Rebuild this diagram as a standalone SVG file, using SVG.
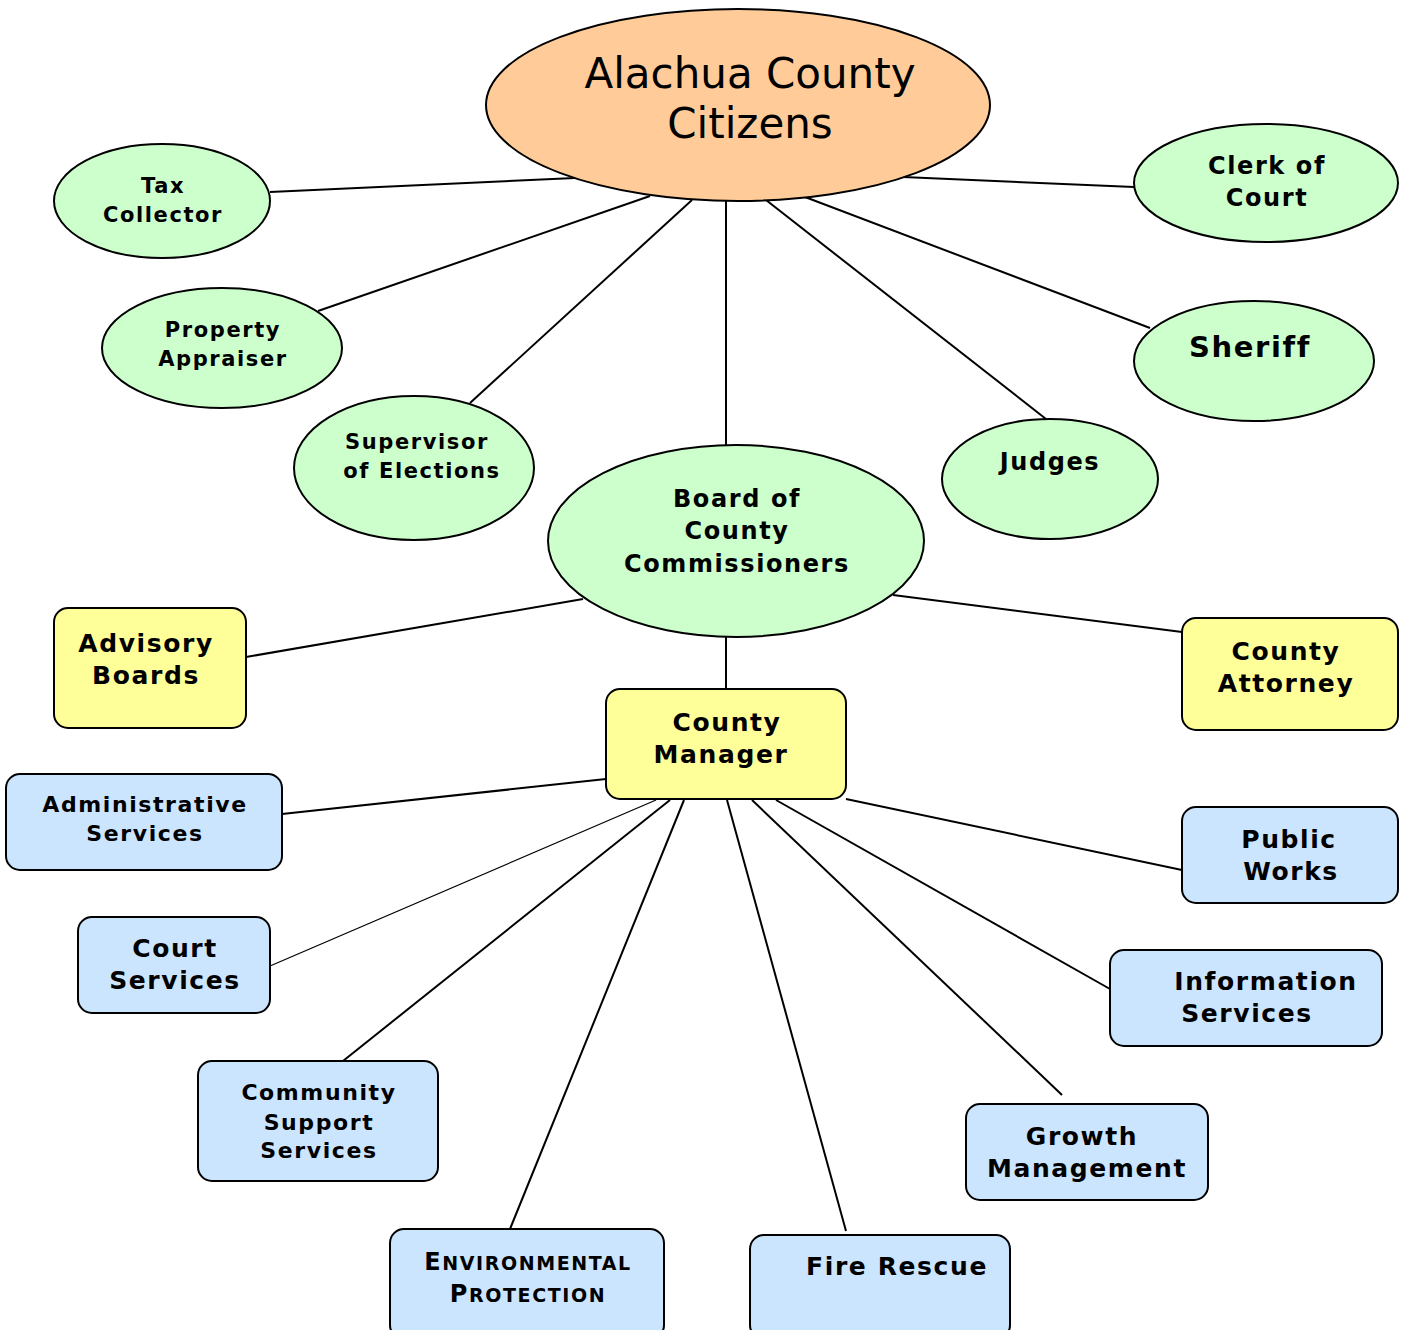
<svg xmlns="http://www.w3.org/2000/svg" width="1401" height="1330" viewBox="0 0 1401 1330">
<style>
.n{stroke:#000;stroke-width:2}
.o{fill:#FFCC99}
.g{fill:#CCFFCC}
.y{fill:#FFFF99}
.b{fill:#CCE5FF}
.t{font-family:"DejaVu Sans",Verdana,sans-serif;font-weight:bold;fill:#000;text-anchor:middle;letter-spacing:1.6px}
.c line{stroke:#000;stroke-width:2}
</style>
<rect width="1401" height="1330" fill="#fff"/>
<g class="c" id="connectors">
<line x1="270" y1="192" x2="575" y2="178"/>
<line x1="903" y1="177" x2="1134" y2="187"/>
<line x1="318" y1="311" x2="650" y2="196"/>
<line x1="470" y1="403" x2="692" y2="200"/>
<line x1="726" y1="201" x2="726" y2="445"/>
<line x1="766" y1="200" x2="1046" y2="419"/>
<line x1="805" y1="197" x2="1150" y2="328"/>
<line x1="246" y1="657" x2="583" y2="599"/>
<line x1="893" y1="595" x2="1182" y2="632"/>
<line x1="726" y1="637" x2="726" y2="689"/>
<line x1="282" y1="814" x2="606" y2="779"/>
<line x1="270" y1="966" x2="656" y2="800" style="stroke-width:1.2"/>
<line x1="343" y1="1061" x2="670" y2="800"/>
<line x1="510" y1="1229" x2="684" y2="800"/>
<line x1="846" y1="1231" x2="727" y2="800"/>
<line x1="1062" y1="1095" x2="752" y2="800"/>
<line x1="1110" y1="989" x2="776" y2="800"/>
<line x1="1182" y1="870" x2="846" y2="799"/>
</g>
<g id="citizens">
<ellipse class="n o" cx="738" cy="105" rx="252" ry="96"/>
<text class="t" x="750" y="88" style="font-weight:normal;font-size:42px;letter-spacing:0">Alachua County</text>
<text class="t" x="750" y="138" style="font-weight:normal;font-size:42px;letter-spacing:0">Citizens</text>
</g>
<g id="tax-collector">
<ellipse class="n g" cx="162" cy="201" rx="108" ry="57"/>
<text class="t" x="163" y="193" font-size="21">Tax</text>
<text class="t" x="163" y="222" font-size="21">Collector</text>
</g>
<g id="property-appraiser">
<ellipse class="n g" cx="222" cy="348" rx="120" ry="60"/>
<text class="t" x="223" y="337" font-size="21">Property</text>
<text class="t" x="223" y="366" font-size="21">Appraiser</text>
</g>
<g id="supervisor-of-elections">
<ellipse class="n g" cx="414" cy="468" rx="120" ry="72"/>
<text class="t" x="417" y="449" font-size="21">Supervisor</text>
<text class="t" x="422" y="478" font-size="21">of Elections</text>
</g>
<g id="board">
<ellipse class="n g" cx="736" cy="541" rx="188" ry="96"/>
<text class="t" x="737" y="507" font-size="24">Board of</text>
<text class="t" x="737" y="539" font-size="24">County</text>
<text class="t" x="737" y="572" font-size="24">Commissioners</text>
</g>
<g id="judges">
<ellipse class="n g" cx="1050" cy="479" rx="108" ry="60"/>
<text class="t" x="1050" y="470" font-size="24">Judges</text>
</g>
<g id="sheriff">
<ellipse class="n g" cx="1254" cy="361" rx="120" ry="60"/>
<text class="t" x="1250" y="357" font-size="29">Sheriff</text>
</g>
<g id="clerk-of-court">
<ellipse class="n g" cx="1266" cy="183" rx="132" ry="59"/>
<text class="t" x="1267" y="174" font-size="24">Clerk of</text>
<text class="t" x="1267" y="206" font-size="24">Court</text>
</g>
<g id="advisory-boards">
<rect class="n y" x="54" y="608" width="192" height="120" rx="14"/>
<text class="t" x="146" y="652" font-size="25">Advisory</text>
<text class="t" x="146" y="684" font-size="25">Boards</text>
</g>
<g id="county-attorney">
<rect class="n y" x="1182" y="618" width="216" height="112" rx="14"/>
<text class="t" x="1286" y="660" font-size="25">County</text>
<text class="t" x="1286" y="692" font-size="25">Attorney</text>
</g>
<g id="county-manager">
<rect class="n y" x="606" y="689" width="240" height="110" rx="14"/>
<text class="t" x="727" y="731" font-size="25">County</text>
<text class="t" x="721" y="763" font-size="25">Manager</text>
</g>
<g id="administrative-services">
<rect class="n b" x="6" y="774" width="276" height="96" rx="14"/>
<text class="t" x="145" y="812" font-size="22">Administrative</text>
<text class="t" x="145" y="841" font-size="22">Services</text>
</g>
<g id="court-services">
<rect class="n b" x="78" y="917" width="192" height="96" rx="14"/>
<text class="t" x="175" y="957" font-size="25">Court</text>
<text class="t" x="175" y="989" font-size="25">Services</text>
</g>
<g id="community-support-services">
<rect class="n b" x="198" y="1061" width="240" height="120" rx="14"/>
<text class="t" x="319" y="1100" font-size="22">Community</text>
<text class="t" x="319" y="1130" font-size="22">Support</text>
<text class="t" x="319" y="1158" font-size="22">Services</text>
</g>
<g id="environmental-protection">
<rect class="n b" x="390" y="1229" width="274" height="110" rx="14"/>
<text class="t" x="528" y="1270" font-size="24">E<tspan font-size="19">NVIRONMENTAL</tspan></text>
<text class="t" x="528" y="1302" font-size="24">P<tspan font-size="19">ROTECTION</tspan></text>
</g>
<g id="fire-rescue">
<rect class="n b" x="750" y="1235" width="260" height="104" rx="14"/>
<text class="t" x="897" y="1275" font-size="25">Fire Rescue</text>
</g>
<g id="growth-management">
<rect class="n b" x="966" y="1104" width="242" height="96" rx="14"/>
<text class="t" x="1082" y="1145" font-size="25">Growth</text>
<text class="t" x="1087" y="1177" font-size="25">Management</text>
</g>
<g id="information-services">
<rect class="n b" x="1110" y="950" width="272" height="96" rx="14"/>
<text class="t" x="1266" y="990" font-size="25">Information</text>
<text class="t" x="1247" y="1022" font-size="25">Services</text>
</g>
<g id="public-works">
<rect class="n b" x="1182" y="807" width="216" height="96" rx="14"/>
<text class="t" x="1289" y="848" font-size="25">Public</text>
<text class="t" x="1291" y="880" font-size="25">Works</text>
</g>
</svg>
